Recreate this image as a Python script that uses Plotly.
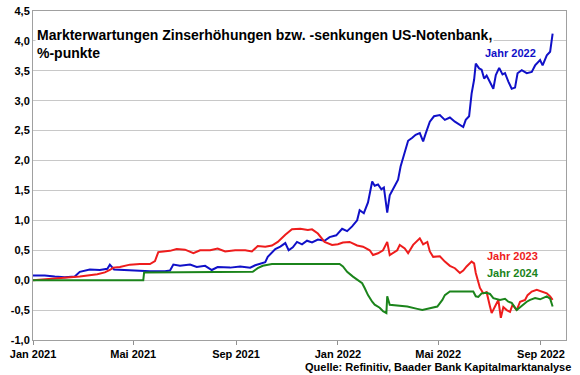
import plotly.graph_objects as go

# ---------------- data ----------------
dates_2022 = ["2021-01-01","2021-01-15","2021-01-27","2021-02-08","2021-02-20","2021-02-26","2021-03-10","2021-03-22",
              "2021-03-31","2021-04-03","2021-04-08","2021-04-21","2021-05-09","2021-05-21","2021-06-08","2021-06-14",
              "2021-06-18","2021-06-26","2021-07-08","2021-07-16","2021-07-26","2021-08-03","2021-08-10","2021-08-25",
              "2021-09-06","2021-09-18","2021-09-24","2021-09-30","2021-10-06","2021-10-09","2021-10-18","2021-10-24",
              "2021-10-30","2021-11-03","2021-11-08","2021-11-13","2021-11-19","2021-11-25","2021-12-01","2021-12-08",
              "2021-12-16","2021-12-22","2021-12-30","2022-01-06","2022-01-12","2022-01-18","2022-01-24","2022-01-27",
              "2022-02-01","2022-02-06","2022-02-11","2022-02-14","2022-02-18","2022-02-22","2022-02-25","2022-03-01",
              "2022-03-04","2022-03-09","2022-03-14","2022-03-17","2022-03-22","2022-03-26","2022-03-31","2022-04-04",
              "2022-04-09","2022-04-13","2022-04-16","2022-04-21","2022-04-26","2022-05-03","2022-05-09","2022-05-15",
              "2022-05-21","2022-05-27","2022-05-31","2022-06-03","2022-06-07","2022-06-10","2022-06-13","2022-06-15",
              "2022-06-19","2022-06-22","2022-06-25","2022-06-28","2022-07-02","2022-07-06","2022-07-09","2022-07-13",
              "2022-07-17","2022-07-20","2022-07-24","2022-07-28","2022-08-01","2022-08-04","2022-08-09","2022-08-15",
              "2022-08-21","2022-08-25","2022-08-31","2022-09-03","2022-09-08","2022-09-12","2022-09-15"]
values_2022 = [0.08,0.08,0.06,0.05,0.06,0.14,0.18,0.17,
               0.19,0.26,0.18,0.17,0.16,0.15,0.15,0.16,
               0.26,0.24,0.26,0.22,0.24,0.17,0.22,0.21,
               0.23,0.21,0.25,0.28,0.30,0.39,0.52,0.56,
               0.62,0.50,0.55,0.64,0.60,0.66,0.63,0.68,
               0.66,0.72,0.75,0.86,0.82,0.90,1.00,1.17,
               1.12,1.30,1.65,1.58,1.60,1.52,1.55,1.13,
               1.42,1.55,1.68,1.90,2.15,2.33,2.38,2.43,
               2.46,2.32,2.45,2.65,2.74,2.76,2.68,2.72,
               2.65,2.60,2.56,2.68,2.74,3.12,3.35,3.62,
               3.54,3.52,3.37,3.42,3.32,3.20,3.43,3.55,
               3.44,3.46,3.32,3.20,3.22,3.46,3.51,3.46,
               3.48,3.59,3.68,3.59,3.76,3.82,4.12]

dates_2023 = ["2021-01-01","2021-01-21","2021-02-06","2021-02-26","2021-03-19","2021-03-28","2021-04-03","2021-04-07",
              "2021-04-15","2021-04-27","2021-05-09","2021-05-21","2021-05-27","2021-05-31","2021-06-06","2021-06-14",
              "2021-06-22","2021-07-02","2021-07-12","2021-07-20","2021-08-01","2021-08-10","2021-08-19","2021-08-31",
              "2021-09-12","2021-09-20","2021-09-27","2021-10-06","2021-10-14","2021-10-21","2021-10-30","2021-11-07",
              "2021-11-17","2021-11-26","2021-12-01","2021-12-08","2021-12-16","2021-12-25","2022-01-01","2022-01-07",
              "2022-01-15","2022-01-24","2022-01-31","2022-02-08","2022-02-12","2022-02-18","2022-02-24","2022-03-01",
              "2022-03-04","2022-03-13","2022-03-16","2022-03-22","2022-03-26","2022-04-01","2022-04-09","2022-04-13",
              "2022-04-18","2022-04-21","2022-04-25","2022-05-03","2022-05-09","2022-05-15","2022-05-21","2022-05-27",
              "2022-05-31","2022-06-04","2022-06-10","2022-06-13","2022-06-15","2022-06-18","2022-06-20","2022-06-24",
              "2022-06-28","2022-07-02","2022-07-04","2022-07-08","2022-07-12","2022-07-15","2022-07-18","2022-07-22",
              "2022-07-26","2022-07-29","2022-08-03","2022-08-07","2022-08-13","2022-08-16","2022-08-21","2022-08-27",
              "2022-09-02","2022-09-08","2022-09-12","2022-09-15"]
values_2023 = [0.00,0.02,0.03,0.06,0.10,0.13,0.17,0.21,
               0.22,0.26,0.27,0.27,0.32,0.47,0.48,0.49,
               0.52,0.51,0.45,0.50,0.50,0.53,0.48,0.50,
               0.50,0.48,0.57,0.56,0.58,0.64,0.76,0.85,
               0.86,0.84,0.85,0.78,0.64,0.59,0.60,0.63,
               0.64,0.58,0.56,0.50,0.42,0.45,0.50,0.64,
               0.42,0.50,0.59,0.53,0.45,0.59,0.70,0.60,
               0.64,0.48,0.39,0.40,0.31,0.24,0.20,0.12,
               0.16,0.23,0.31,0.28,0.12,-0.05,-0.13,-0.22,
               -0.20,-0.44,-0.55,-0.44,-0.33,-0.63,-0.45,-0.50,
               -0.53,-0.41,-0.50,-0.36,-0.33,-0.25,-0.19,-0.16,
               -0.19,-0.22,-0.27,-0.33]

dates_2024 = ["2021-01-01","2021-05-13","2021-05-14","2021-08-25","2021-09-21","2021-09-27","2021-10-03","2021-10-14",
              "2022-01-03","2022-01-07","2022-01-12","2022-01-19","2022-01-25","2022-01-30","2022-02-02","2022-02-06",
              "2022-02-11","2022-02-14","2022-02-20","2022-02-24","2022-02-28","2022-03-01","2022-03-04","2022-03-13",
              "2022-03-25","2022-04-06","2022-04-12","2022-04-21","2022-04-30","2022-05-06","2022-05-09","2022-05-15",
              "2022-05-27","2022-06-12","2022-06-15","2022-06-18","2022-06-22","2022-06-28","2022-07-02","2022-07-06",
              "2022-07-14","2022-07-20","2022-07-24","2022-07-28","2022-08-03","2022-08-07","2022-08-10","2022-08-15",
              "2022-08-19","2022-08-25","2022-08-31","2022-09-03","2022-09-08","2022-09-12","2022-09-15"]
values_2024 = [0.00,0.00,0.13,0.14,0.14,0.20,0.24,0.27,
               0.27,0.23,0.14,0.06,0.00,-0.05,-0.13,-0.25,
               -0.36,-0.41,-0.46,-0.52,-0.55,-0.27,-0.41,-0.42,
               -0.44,-0.48,-0.50,-0.47,-0.44,-0.33,-0.25,-0.19,
               -0.19,-0.19,-0.27,-0.28,-0.22,-0.21,-0.23,-0.30,
               -0.33,-0.31,-0.36,-0.38,-0.50,-0.45,-0.41,-0.36,
               -0.33,-0.30,-0.32,-0.30,-0.27,-0.31,-0.44]

x_tick_vals = ["2021-01-01","2021-05-01","2021-09-01","2022-01-01","2022-05-01","2022-09-01"]
x_tick_text = ["Jan 2021","Mai 2021","Sep 2021","Jan 2022","Mai 2022","Sep 2022"]
y_tick_vals = [-1.0,-0.5,0.0,0.5,1.0,1.5,2.0,2.5,3.0,3.5,4.0,4.5]
y_tick_text = ["-1,0","-0,5","0,0","0,5","1,0","1,5","2,0","2,5","3,0","3,5","4,0","4,5"]

FONT = "Arial, 'Liberation Sans', sans-serif"
BLUE = "#1010C8"
RED = "#EE1C1C"
GREEN = "#1B841B"

fig = go.Figure()
fig.add_trace(go.Scatter(x=dates_2022, y=values_2022, mode="lines", line=dict(color=BLUE, width=2), name="Jahr 2022"))
fig.add_trace(go.Scatter(x=dates_2023, y=values_2023, mode="lines", line=dict(color=RED, width=2), name="Jahr 2023"))
fig.add_trace(go.Scatter(x=dates_2024, y=values_2024, mode="lines", line=dict(color=GREEN, width=2), name="Jahr 2024"))

fig.update_layout(
    width=580, height=375,
    margin=dict(l=33, r=14, t=11, b=35),
    paper_bgcolor="white", plot_bgcolor="white",
    showlegend=False,
    font=dict(family=FONT, size=11, color="#000000"),
)
fig.update_xaxes(
    type="date", range=["2021-01-01", "2022-10-01"], automargin=False,
    tickvals=x_tick_vals, ticktext=[f"<b>{t}</b>" for t in x_tick_text],
    ticks="outside", ticklen=4, tickcolor="#909090",
    showgrid=False, showline=True, linecolor="#a0a0a0", linewidth=1, mirror=True,
    tickfont=dict(family=FONT, size=11, color="#000"),
)
fig.update_yaxes(
    range=[-1.0, 4.5], automargin=False,
    tickvals=y_tick_vals, ticktext=[f"<b>{t}</b>" for t in y_tick_text],
    ticks="", showgrid=True, gridcolor="#c8c8c8", gridwidth=1, zeroline=False,
    showline=True, linecolor="#a0a0a0", linewidth=1, mirror=True,
    tickfont=dict(family=FONT, size=11, color="#000"),
)

fig.add_annotation(
    xref="paper", yref="paper", x=0.004, y=0.958, xanchor="left", yanchor="top",
    text="<b>Markterwartungen Zinserhöhungen bzw. -senkungen US-Notenbank,<br>%-punkte</b>",
    showarrow=False, align="left", bgcolor="white",
    font=dict(family=FONT, size=14, color="#000"),
)
fig.add_annotation(xref="paper", yref="paper", x=0.895, y=0.872, xanchor="center", yanchor="middle",
                   text="<b>Jahr 2022</b>", showarrow=False, font=dict(family=FONT, size=11, color=BLUE))
fig.add_annotation(xref="paper", yref="paper", x=0.900, y=0.255, xanchor="center", yanchor="middle",
                   text="<b>Jahr 2023</b>", showarrow=False, font=dict(family=FONT, size=11, color=RED))
fig.add_annotation(xref="paper", yref="paper", x=0.900, y=0.204, xanchor="center", yanchor="middle",
                   text="<b>Jahr 2024</b>", showarrow=False, font=dict(family=FONT, size=11, color=GREEN))
fig.add_annotation(xref="paper", yref="paper", x=1.013, y=-0.082, xanchor="right", yanchor="middle",
                   text="<b>Quelle: Refinitiv, Baader Bank Kapitalmarktanalyse</b>",
                   showarrow=False, font=dict(family=FONT, size=11, color="#000"))

fig.write_html("out.html", config={"displayModeBar": False},
               post_script="document.body.style.margin='0px';")
